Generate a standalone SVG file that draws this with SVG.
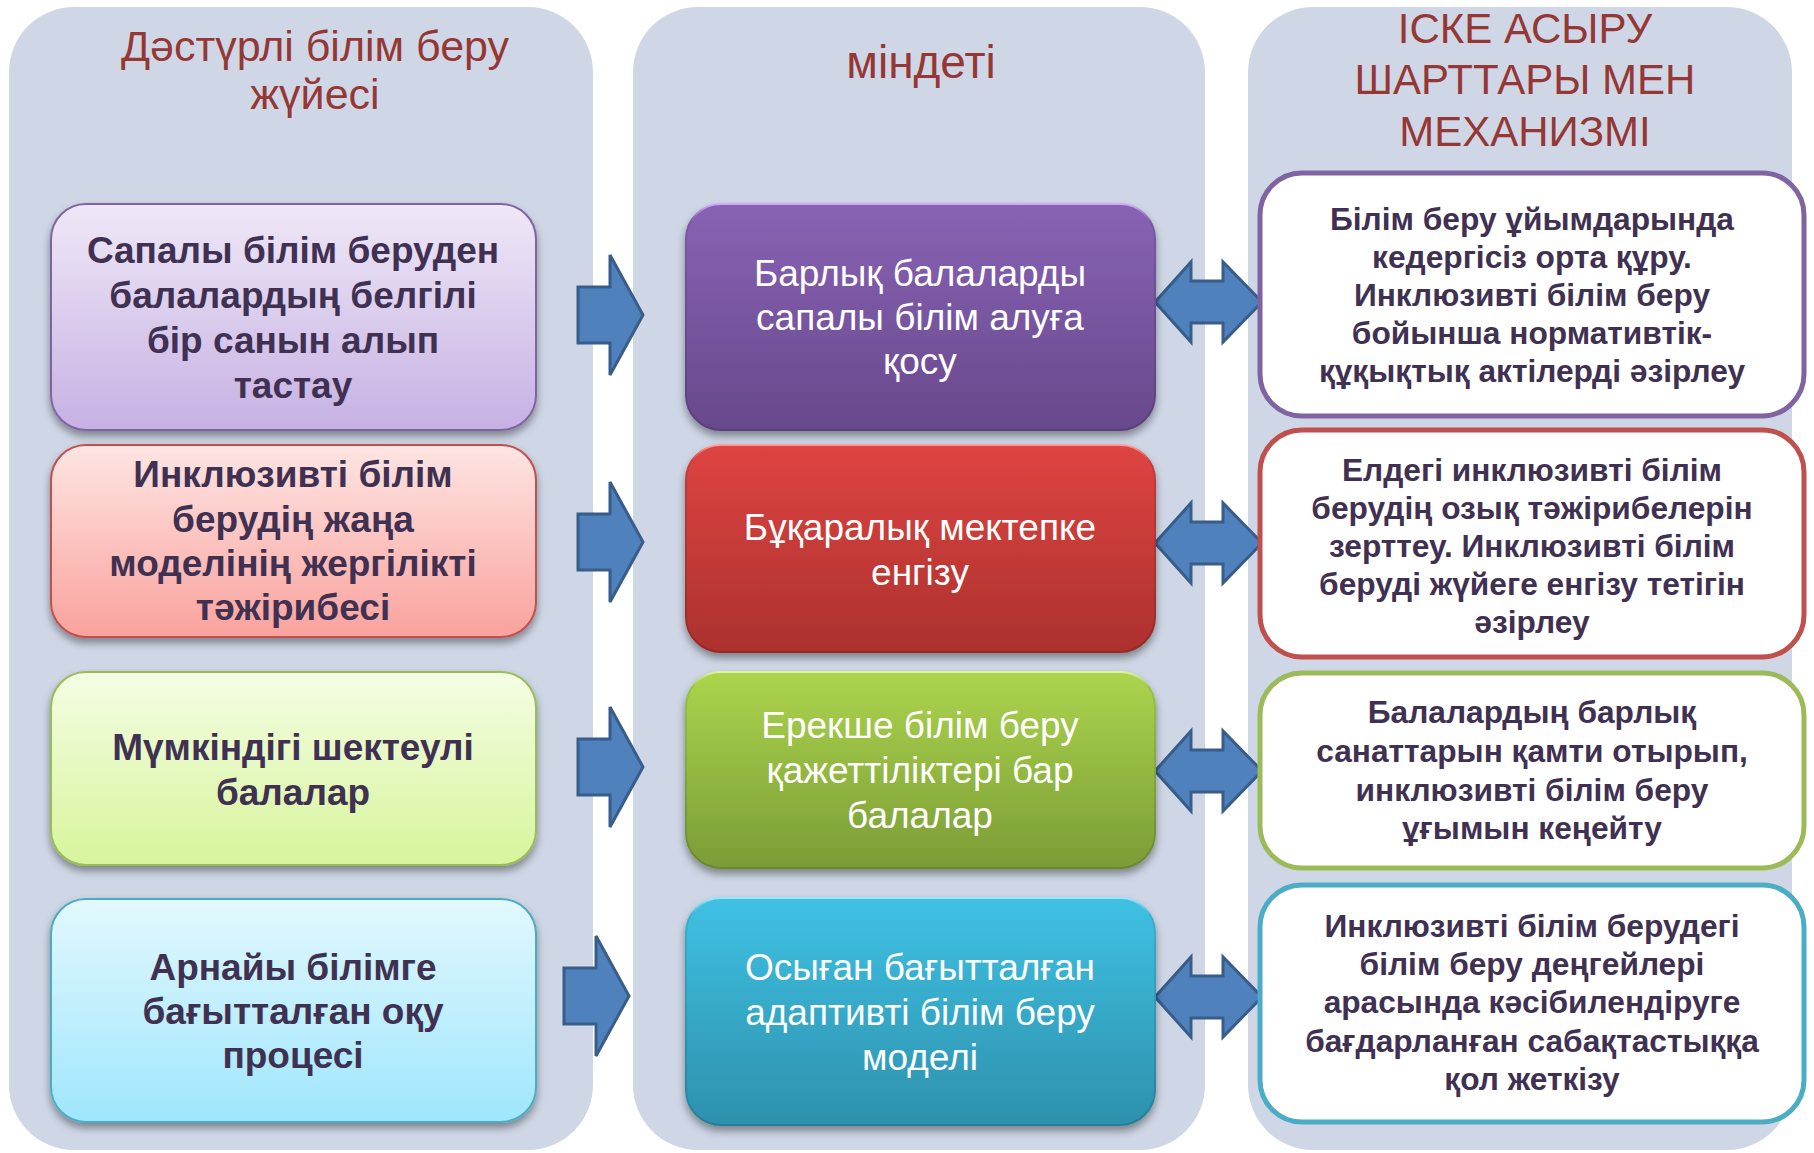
<svg xmlns="http://www.w3.org/2000/svg" xmlns:xlink="http://www.w3.org/1999/xlink" width="1814" height="1153" viewBox="0 0 1814 1153">
<style>
.col{fill:#CFD7E6}
.hdr{font-family:"Liberation Sans",Arial,sans-serif;fill:#953735;text-anchor:middle}
.lt{font-family:"Liberation Sans",Arial,sans-serif;font-weight:bold;font-size:37px;fill:#403152;text-anchor:middle}
.mt{font-family:"Liberation Sans",Arial,sans-serif;font-size:37px;fill:#FFFFFF;text-anchor:middle}
.rt{font-family:"Liberation Sans",Arial,sans-serif;font-weight:bold;font-size:31.7px;fill:#403152;text-anchor:middle}
.rb{fill:#FFFFFF;stroke-width:5}
.arr{fill:#4F81BD;stroke:#385D8A;stroke-width:3;stroke-linejoin:miter}
</style>
<defs>
<filter id="sh" x="-10%" y="-10%" width="120%" height="130%">
<feGaussianBlur in="SourceAlpha" stdDeviation="4"/>
<feOffset dy="5" result="b"/>
<feComponentTransfer><feFuncA type="linear" slope="0.4"/></feComponentTransfer>
<feMerge><feMergeNode/><feMergeNode in="SourceGraphic"/></feMerge>
</filter>
<linearGradient id="gL1" x1="0" y1="0" x2="0" y2="1"><stop offset="0" stop-color="#EFE8F7"/><stop offset="1" stop-color="#C6B1E3"/></linearGradient>
<linearGradient id="gL2" x1="0" y1="0" x2="0" y2="1"><stop offset="0" stop-color="#FDE5E3"/><stop offset="1" stop-color="#FAA29D"/></linearGradient>
<linearGradient id="gL3" x1="0" y1="0" x2="0" y2="1"><stop offset="0" stop-color="#F4FDE3"/><stop offset="1" stop-color="#D7F59C"/></linearGradient>
<linearGradient id="gL4" x1="0" y1="0" x2="0" y2="1"><stop offset="0" stop-color="#E2F8FE"/><stop offset="1" stop-color="#9FE6FC"/></linearGradient>
<linearGradient id="gM1" x1="0" y1="0" x2="0" y2="1"><stop offset="0" stop-color="#8862B4"/><stop offset="1" stop-color="#68498C"/></linearGradient>
<linearGradient id="gM2" x1="0" y1="0" x2="0" y2="1"><stop offset="0" stop-color="#DE4441"/><stop offset="1" stop-color="#AC312E"/></linearGradient>
<linearGradient id="gM3" x1="0" y1="0" x2="0" y2="1"><stop offset="0" stop-color="#ACD44D"/><stop offset="1" stop-color="#7B9C36"/></linearGradient>
<linearGradient id="gM4" x1="0" y1="0" x2="0" y2="1"><stop offset="0" stop-color="#3FC1E4"/><stop offset="1" stop-color="#2D91AC"/></linearGradient>
<linearGradient id="sM1" x1="0" y1="0" x2="0" y2="1"><stop offset="0" stop-color="#D0A8F5"/><stop offset="0.08" stop-color="#7A58A6"/><stop offset="1" stop-color="#5A3F7A"/></linearGradient>
<linearGradient id="sM2" x1="0" y1="0" x2="0" y2="1"><stop offset="0" stop-color="#FF9C98"/><stop offset="0.08" stop-color="#C93B38"/><stop offset="1" stop-color="#952A28"/></linearGradient>
<linearGradient id="sM3" x1="0" y1="0" x2="0" y2="1"><stop offset="0" stop-color="#DDF59A"/><stop offset="0.08" stop-color="#98C244"/><stop offset="1" stop-color="#6A882F"/></linearGradient>
<linearGradient id="sM4" x1="0" y1="0" x2="0" y2="1"><stop offset="0" stop-color="#9BE6FA"/><stop offset="0.08" stop-color="#36AFD2"/><stop offset="1" stop-color="#277F98"/></linearGradient>
<path id="ar1" class="arr" d="M578,-28 H610 V-60 L643,0 L610,60 V28 H578 Z"/>
<path id="ar2" class="arr" d="M1155,0 L1191,-40 V-21 H1223 V-40 L1262,0 L1223,40 V21 H1191 V40 Z"/>
</defs>

<g id="columns">
<rect class="col" x="9" y="7" width="584" height="1143" rx="65"/>
<rect class="col" x="633" y="7" width="572" height="1143" rx="65"/>
<rect class="col" x="1248" y="7" width="544" height="1143" rx="65"/>
</g>

<g id="headers">
<text class="hdr" font-size="43" x="315" y="61">Дәстүрлі білім беру</text>
<text class="hdr" font-size="43" x="315" y="109">жүйесі</text>
<text class="hdr" font-size="46" x="921" y="78">міндеті</text>
<text class="hdr" font-size="42" x="1525" y="43">ІСКЕ АСЫРУ</text>
<text class="hdr" font-size="42" x="1525" y="94">ШАРТТАРЫ МЕН</text>
<text class="hdr" font-size="42" x="1525" y="146">МЕХАНИЗМІ</text>
</g>

<g id="connectors">
<use xlink:href="#ar1" transform="translate(0,315)"/>
<use xlink:href="#ar1" transform="translate(0,542)"/>
<use xlink:href="#ar1" transform="translate(0,767)"/>
<use xlink:href="#ar1" transform="translate(-14,996)"/>
<use xlink:href="#ar2" transform="translate(0,302)"/>
<use xlink:href="#ar2" transform="translate(0,543)"/>
<use xlink:href="#ar2" transform="translate(0,771)"/>
<use xlink:href="#ar2" transform="translate(0,997)"/>
</g>

<g id="L1">
<rect x="51" y="204" width="485" height="226" rx="35" fill="url(#gL1)" stroke="#8064A2" stroke-width="2" filter="url(#sh)"/>
<text class="lt" x="293" y="263">Сапалы білім беруден</text>
<text class="lt" x="293" y="308">балалардың белгілі</text>
<text class="lt" x="293" y="353">бір санын алып</text>
<text class="lt" x="293" y="398">тастау</text>
</g>
<g id="L2">
<rect x="51" y="445" width="485" height="192" rx="35" fill="url(#gL2)" stroke="#C0504D" stroke-width="2" filter="url(#sh)"/>
<text class="lt" x="293" y="487">Инклюзивті білім</text>
<text class="lt" x="293" y="532">берудің жаңа</text>
<text class="lt" x="293" y="576">моделінің жергілікті</text>
<text class="lt" x="293" y="620">тәжірибесі</text>
</g>
<g id="L3">
<rect x="51" y="672" width="485" height="193" rx="35" fill="url(#gL3)" stroke="#9BBB59" stroke-width="2" filter="url(#sh)"/>
<text class="lt" x="293" y="760">Мүмкіндігі шектеулі</text>
<text class="lt" x="293" y="805">балалар</text>
</g>
<g id="L4">
<rect x="51" y="899" width="485" height="223" rx="35" fill="url(#gL4)" stroke="#4BACC6" stroke-width="2" filter="url(#sh)"/>
<text class="lt" x="293" y="980">Арнайы білімге</text>
<text class="lt" x="293" y="1024">бағытталған оқу</text>
<text class="lt" x="293" y="1068">процесі</text>
</g>

<g id="M1">
<rect x="686" y="204" width="469" height="226" rx="35" fill="url(#gM1)" stroke="url(#sM1)" stroke-width="2" filter="url(#sh)"/>
<text class="mt" x="920" y="286">Барлық балаларды</text>
<text class="mt" x="920" y="330">сапалы білім алуға</text>
<text class="mt" x="920" y="374">қосу</text>
</g>
<g id="M2">
<rect x="686" y="445" width="469" height="207" rx="35" fill="url(#gM2)" stroke="url(#sM2)" stroke-width="2" filter="url(#sh)"/>
<text class="mt" x="920" y="540">Бұқаралық мектепке</text>
<text class="mt" x="920" y="585">енгізу</text>
</g>
<g id="M3">
<rect x="686" y="672" width="469" height="196" rx="35" fill="url(#gM3)" stroke="url(#sM3)" stroke-width="2" filter="url(#sh)"/>
<text class="mt" x="920" y="738">Ерекше білім беру</text>
<text class="mt" x="920" y="783">қажеттіліктері бар</text>
<text class="mt" x="920" y="828">балалар</text>
</g>
<g id="M4">
<rect x="686" y="898" width="469" height="227" rx="35" fill="url(#gM4)" stroke="url(#sM4)" stroke-width="2" filter="url(#sh)"/>
<text class="mt" x="920" y="980">Осыған бағытталған</text>
<text class="mt" x="920" y="1025">адаптивті білім беру</text>
<text class="mt" x="920" y="1070">моделі</text>
</g>

<g id="R1">
<rect class="rb" x="1260" y="173" width="544" height="243" rx="42" stroke="#8064A2"/>
<text class="rt" x="1532" y="230">Білім беру ұйымдарында</text>
<text class="rt" x="1532" y="268">кедергісіз орта құру.</text>
<text class="rt" x="1532" y="306">Инклюзивті білім беру</text>
<text class="rt" x="1532" y="344">бойынша нормативтік-</text>
<text class="rt" x="1532" y="382">құқықтық актілерді әзірлеу</text>
</g>
<g id="R2">
<rect class="rb" x="1260" y="430" width="544" height="227" rx="42" stroke="#C0504D"/>
<text class="rt" x="1532" y="481">Елдегі инклюзивті білім</text>
<text class="rt" x="1532" y="519">берудің озық тәжірибелерін</text>
<text class="rt" x="1532" y="557">зерттеу. Инклюзивті білім</text>
<text class="rt" x="1532" y="595">беруді жүйеге енгізу тетігін</text>
<text class="rt" x="1532" y="633">әзірлеу</text>
</g>
<g id="R3">
<rect class="rb" x="1260" y="673" width="544" height="195" rx="42" stroke="#9BBB59"/>
<text class="rt" x="1532" y="723">Балалардың барлық</text>
<text class="rt" x="1532" y="762">санаттарын қамти отырып,</text>
<text class="rt" x="1532" y="801">инклюзивті білім беру</text>
<text class="rt" x="1532" y="839">ұғымын кеңейту</text>
</g>
<g id="R4">
<rect class="rb" x="1260" y="885" width="544" height="237" rx="42" stroke="#4BACC6"/>
<text class="rt" x="1532" y="937">Инклюзивті білім берудегі</text>
<text class="rt" x="1532" y="975">білім беру деңгейлері</text>
<text class="rt" x="1532" y="1013">арасында кәсібилендіруге</text>
<text class="rt" x="1532" y="1052">бағдарланған сабақтастыққа</text>
<text class="rt" x="1532" y="1090">қол жеткізу</text>
</g>
</svg>
